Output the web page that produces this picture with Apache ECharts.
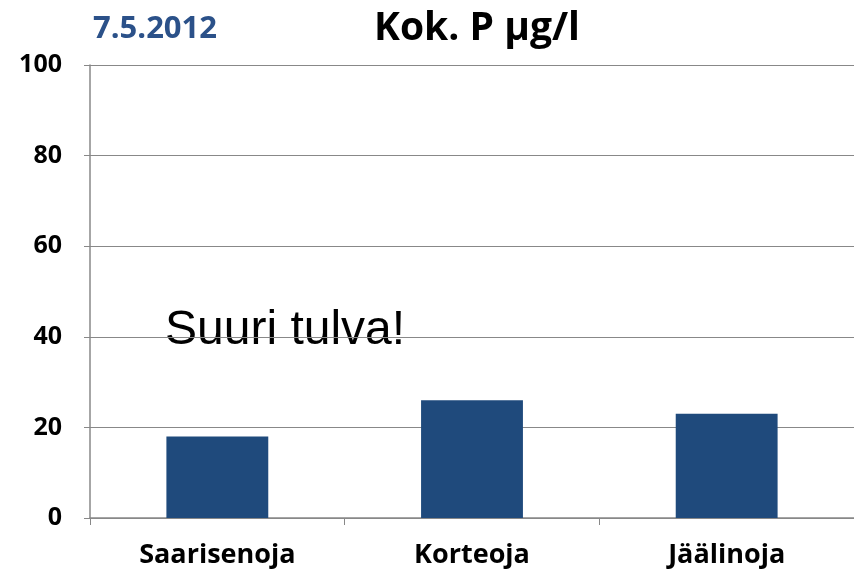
<!DOCTYPE html>
<html>
<head>
<meta charset="utf-8">
<script src="https://cdn.jsdelivr.net/npm/echarts@6/dist/echarts.min.js"></script>
<style>
  html, body { margin: 0; padding: 0; background: #fff; }
  #chart { width: 854px; height: 575px; }
</style>
</head>
<body>
<div id="chart"></div>
<script>
// data
const places = ['Saarisenoja', 'Korteoja', 'Jäälinoja'];
const totalP = [18, 26, 23];
const yTicks = [0, 20, 40, 60, 80, 100];

const font = '"Open Sans", sans-serif';

const chart = echarts.init(document.getElementById('chart'), null, { renderer: 'canvas' });

const option = {
  animation: false,
  title: [{
    text: 'Kok. P µg/l',
    left: 472, top: 4, textAlign: 'center',
    textStyle: { fontFamily: font, fontSize: 39, fontWeight: 'bold', color: '#000' }
  }, {
    text: '7.5.2012',
    left: 88, top: 9,
    textStyle: { fontFamily: font, fontSize: 31, fontWeight: 'bold', color: '#2B5189' }
  }],
  grid: { left: 90, right: 0, top: 65, bottom: 57 },
  xAxis: {
    type: 'category',
    data: places,
    axisLine: { lineStyle: { color: '#888', width: 1.5 } },
    axisTick: { show: true, length: 7, lineStyle: { color: '#888' } },
    axisLabel: { margin: 24, fontFamily: font, fontSize: 27, fontWeight: 'bold', color: '#000' }
  },
  yAxis: {
    type: 'value',
    min: yTicks[0], max: yTicks[yTicks.length - 1], interval: 20,
    axisLine: { show: true, lineStyle: { color: '#888', width: 1.5 } },
    axisTick: { show: true, length: 6, lineStyle: { color: '#888' } },
    splitLine: { lineStyle: { color: '#888', width: 1.2 } },
    axisLabel: { margin: 28, fontFamily: font, fontSize: 25, fontWeight: 'bold', color: '#000' }
  },
  series: [{
    type: 'bar',
    data: totalP,
    barWidth: '40%',
    itemStyle: { color: '#1F4A7C' }
  }],
  graphic: [{
    type: 'text',
    left: 165, top: 307,
    style: { text: 'Suuri tulva!', font: '48px "Liberation Sans", Arial, sans-serif', fill: '#000' }
  }]
};

chart.setOption(option);
</script>
</body>
</html>
